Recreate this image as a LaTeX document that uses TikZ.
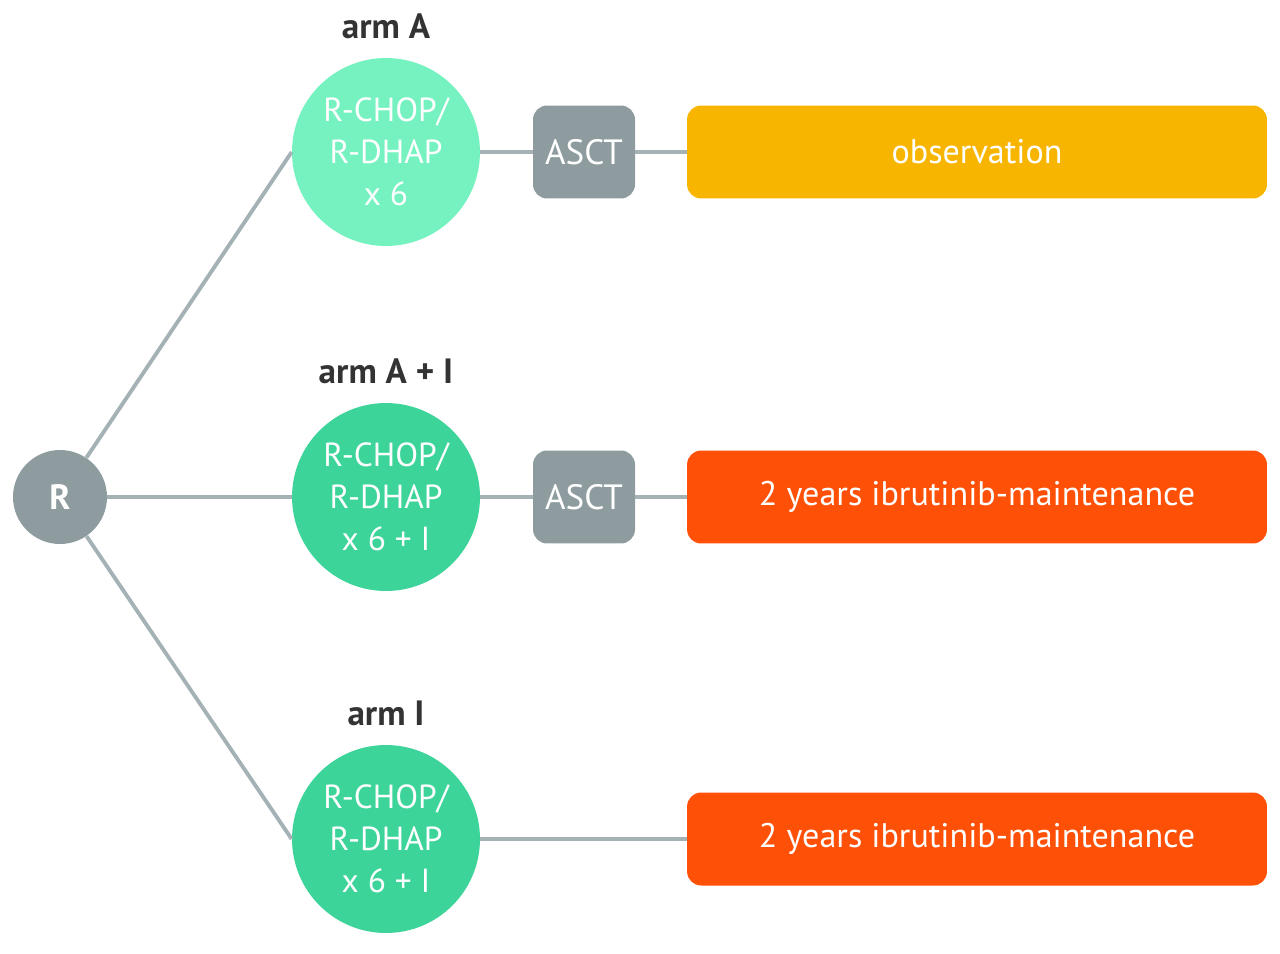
\documentclass[tikz,border=0pt]{standalone}
\usepackage{fontspec}
\setmainfont{PT Sans}
\usetikzlibrary{positioning}
\definecolor{randgrey}{RGB}{142,156,159}
\definecolor{randline}{RGB}{165,178,181}
\definecolor{armmint}{RGB}{117,242,192}
\definecolor{armgreen}{RGB}{61,212,154}
\definecolor{obsyellow}{RGB}{247,181,0}
\definecolor{maintorange}{RGB}{255,80,8}
\definecolor{armtext}{RGB}{51,51,51}

\begin{document}
\begin{tikzpicture}[x=0.02cm,y=-0.02cm,
  induction/.style={circle,minimum size=3.76cm,inner sep=0pt,text=white,align=center,
    font=\fontsize{19}{24}\selectfont},
  armlabel/.style={inner sep=0pt,text=armtext,font=\bfseries\fontsize{20}{24}\selectfont},
  asct/.style={fill=randgrey,rounded corners=8pt,minimum width=2.04cm,minimum height=1.86cm,
    text=white,font=\fontsize{20}{24}\selectfont},
  outcome/.style={rounded corners=8pt,minimum width=11.6cm,minimum height=1.86cm,
    text=white,font=\fontsize{19.4}{24}\selectfont},
  link/.style={draw=randline,line width=2.2pt}]
\useasboundingbox (0,0) rectangle (1280,953);

\node [circle,fill=randgrey,minimum size=1.88cm,text=white,font=\bfseries\fontsize{20}{24}\selectfont] (R) at (60,497) {R};

% arm A
\node [induction,fill=armmint] (armA) at (386,152) {R-CHOP/\\R-DHAP\\x 6};
\node [armlabel,above=0.38cm of armA] (labA) {arm A};
\node [asct] (asctA) at (584,152) {ASCT};
\node [outcome,fill=obsyellow] (obsA) at (977,152) {observation};

% arm A + I
\node [induction,fill=armgreen] (armAI) at (386,497) {R-CHOP/\\R-DHAP\\x 6 + I};
\node [armlabel,above=0.38cm of armAI] (labAI) {arm A + I};
\node [asct] (asctAI) at (584,497) {ASCT};
\node [outcome,fill=maintorange] (maintAI) at (977,497) {2 years ibrutinib-maintenance};

% arm I
\node [induction,fill=armgreen] (armI) at (386,839) {R-CHOP/\\R-DHAP\\x 6 + I};
\node [armlabel,above=0.38cm of armI] (labI) {arm I};
\node [outcome,fill=maintorange] (maintI) at (977,839) {2 years ibrutinib-maintenance};

\begin{scope}[on background layer/.try]
\draw [link] (R) -- (armA.west);
\draw [link] (R) -- (armAI.west);
\draw [link] (R) -- (armI.west);
\draw [link] (armA) -- (asctA) -- (obsA);
\draw [link] (armAI) -- (asctAI) -- (maintAI);
\draw [link] (armI) -- (maintI);
\end{scope}
\end{tikzpicture}
\end{document}
